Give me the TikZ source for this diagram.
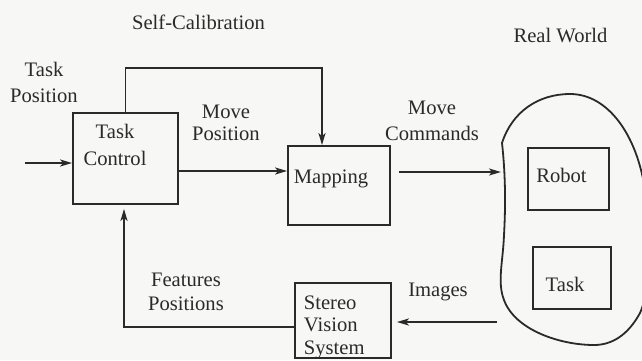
\documentclass[tikz,border=0pt]{standalone}
\usepackage{fontspec}
\setmainfont{Liberation Serif}
\usetikzlibrary{arrows.meta}
\definecolor{ink}{HTML}{2A2A2A}
\definecolor{paper}{HTML}{F7F7F5}

\begin{document}
\begin{tikzpicture}[x=0.5pt, y=-0.5pt, line width=0.9pt, color=ink,
    font=\fontsize{10.3}{12.2}\selectfont,
    box/.style={draw, inner sep=0pt},
    lbl/.style={inner sep=0pt, align=center},
    arr/.style={-{Stealth[length=6pt, width=3.5pt, inset=1.5pt]}}]

    \useasboundingbox (0,0) rectangle (642,360);
    \fill [paper] (0,0) rectangle (642,360);
    \clip (0,0) rectangle (642,360);

    % blocks
    \node [box, minimum width=52.5pt, minimum height=45.5pt] (tc) at (125.5,158.5) {};
    \node [box, minimum width=51pt, minimum height=39.5pt] (map) at (339,185.5) {};
    \node [box, minimum width=48pt, minimum height=37.5pt] (sv) at (343,320.5) {};
    \node [box, minimum width=40.5pt, minimum height=31pt] (robot) at (568.5,179) {};
    \node [box, minimum width=39pt, minimum height=31pt] (task) at (572,278) {};

    \node [lbl, anchor=north] (tctext) at (115,123) {Task\\[1.5pt]Control};
    \node [lbl, anchor=base] (maptext) at (331,183) {Mapping};
    \node [lbl, anchor=north west, align=left, font=\fontsize{10.3}{11.2}\selectfont] (svtext) at (303,295) {Stereo\\Vision\\System};
    \node [lbl, anchor=base] (robottext) at (561.5,182) {Robot};
    \node [lbl, anchor=base] (tasktext) at (565,291) {Task};

    % real world
    \draw (502,143) .. controls (512,112) and (538,94) .. (570,94)
        .. controls (608,94) and (637,135) .. (645,190)
        .. controls (652,240) and (650,292) .. (640,313)
        .. controls (628,335) and (612,345) .. (594,345)
        .. controls (560,345) and (515,330) .. (504,300)
        .. controls (497,282) and (503,262) .. (504,235)
        .. controls (506,200) and (505,170) .. (502,143) -- cycle;
    \coordinate (worldin) at (501,172);
    \coordinate (worldout) at (497,322);

    % connections
    \coordinate (tpin) at (25,163);
    \coordinate (calib) at (125.5,68);
    \draw [arr] (tpin) -- (tpin -| tc.west);
    \draw [arr] ([yshift=-6.25pt]tc.east) -- ([yshift=-6.25pt]tc.east -| map.west);
    \draw [arr] (tc.north) -- (calib) -| ([xshift=-8.5pt]map.north);
    \draw [arr] ([xshift=4pt]map.east |- worldin) -- (worldin);
    \draw [arr] (worldout) -- ([xshift=2.5pt]sv.east |- worldout);
    \draw [arr] ([yshift=-3.25pt]sv.west) -| ([xshift=-0.75pt, yshift=-2pt]tc.south);

    % labels
    \node [lbl, anchor=base] (selfcal) at (198.5,29.5) {Self-Calibration};
    \node [lbl, anchor=base] (realworld) at (560.5,42) {Real World};
    \node [lbl, anchor=north] (taskpos) at (44,61) {Task\\[1pt]Position};
    \node [lbl, anchor=north] (movepos) at (226,104) {Move\\[-1pt]Position};
    \node [lbl, anchor=north] (movecmd) at (432,100) {Move\\[1pt]Commands};
    \node [lbl, anchor=north] (featpos) at (186,272) {Features\\Positions};
    \node [lbl, anchor=base] (images) at (438,296) {Images};

\end{tikzpicture}
\end{document}
